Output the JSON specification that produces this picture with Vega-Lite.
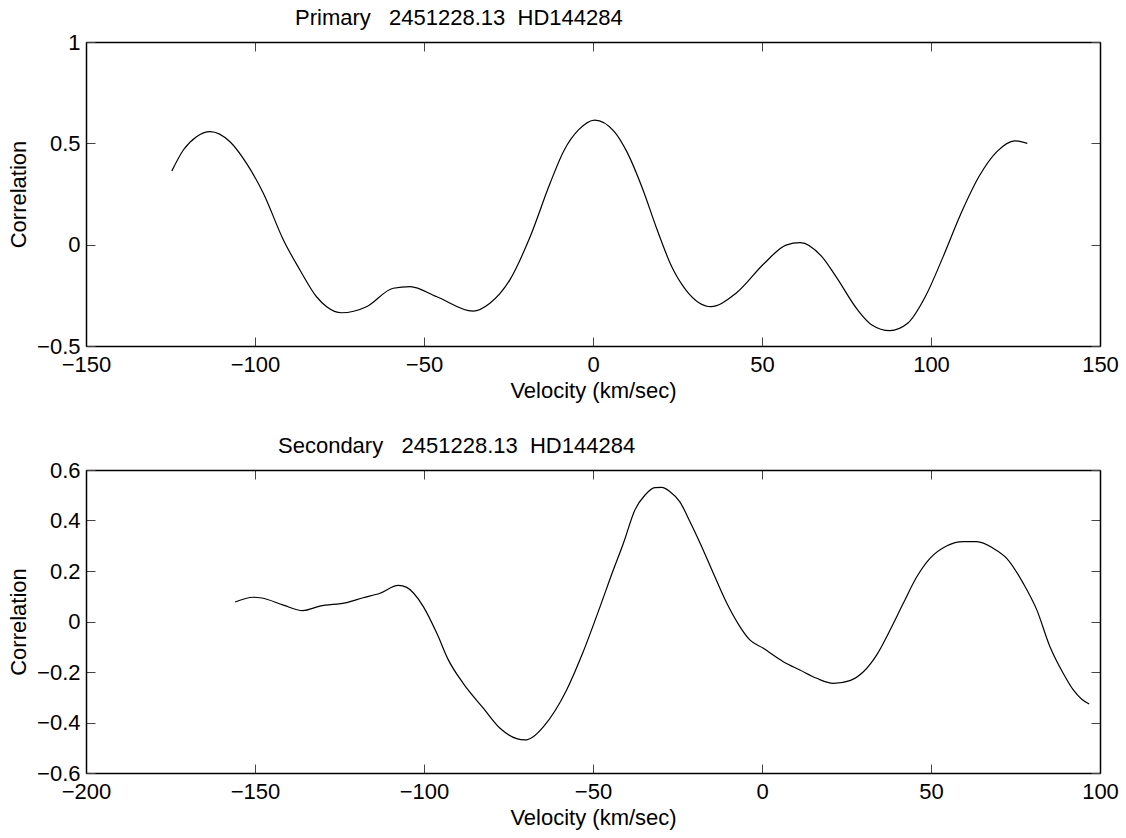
{
  "$schema": "https://vega.github.io/schema/vega-lite/v6.json",
  "background": "white",
  "padding": {"left": 7, "top": 7, "right": 10, "bottom": 2},
  "spacing": 34,
  "datasets": {
    "primary": [
      {"v": -124.6, "c": 0.364}, {"v": -121.2, "c": 0.467}, {"v": -117.3, "c": 0.533}, {"v": -113.3, "c": 0.558},
      {"v": -107.4, "c": 0.508}, {"v": -102.5, "c": 0.401}, {"v": -97.5, "c": 0.253}, {"v": -91.6, "c": 0.023},
      {"v": -86.7, "c": -0.125}, {"v": -81.8, "c": -0.257}, {"v": -78.8, "c": -0.306}, {"v": -74.4, "c": -0.336},
      {"v": -67.0, "c": -0.306}, {"v": -59.1, "c": -0.215}, {"v": -54.1, "c": -0.207}, {"v": -46.2, "c": -0.257},
      {"v": -35.5, "c": -0.328}, {"v": -30.5, "c": -0.289}, {"v": -24.6, "c": -0.174}, {"v": -18.6, "c": 0.039},
      {"v": -12.7, "c": 0.303}, {"v": -8.5, "c": 0.467}, {"v": -4.3, "c": 0.566}, {"v": 0.5, "c": 0.615},
      {"v": 6.3, "c": 0.558}, {"v": 10.0, "c": 0.459}, {"v": 14.8, "c": 0.27}, {"v": 19.0, "c": 0.072},
      {"v": 23.3, "c": -0.109}, {"v": 27.5, "c": -0.224}, {"v": 34.9, "c": -0.306}, {"v": 42.3, "c": -0.24},
      {"v": 50.7, "c": -0.092}, {"v": 57.1, "c": -0.002}, {"v": 61.3, "c": 0.01}, {"v": 67.7, "c": -0.059},
      {"v": 71.9, "c": -0.158}, {"v": 78.3, "c": -0.322}, {"v": 82.5, "c": -0.396}, {"v": 87.8, "c": -0.424},
      {"v": 93.1, "c": -0.388}, {"v": 98.3, "c": -0.257}, {"v": 103.6, "c": -0.059}, {"v": 108.9, "c": 0.155},
      {"v": 114.2, "c": 0.336}, {"v": 119.5, "c": 0.459}, {"v": 124.8, "c": 0.512}, {"v": 128.5, "c": 0.5}
    ],
    "secondary": [
      {"v": -155.9, "c": 0.077}, {"v": -150.5, "c": 0.096}, {"v": -148.0, "c": 0.093}, {"v": -141.6, "c": 0.065},
      {"v": -135.9, "c": 0.043}, {"v": -130.8, "c": 0.061}, {"v": -122.9, "c": 0.075}, {"v": -118.0, "c": 0.094},
      {"v": -113.0, "c": 0.112}, {"v": -107.6, "c": 0.143}, {"v": -105.1, "c": 0.135}, {"v": -100.2, "c": 0.059},
      {"v": -96.2, "c": -0.047}, {"v": -92.8, "c": -0.152}, {"v": -88.4, "c": -0.245}, {"v": -82.4, "c": -0.344},
      {"v": -77.5, "c": -0.423}, {"v": -72.6, "c": -0.464}, {"v": -70.1, "c": -0.469}, {"v": -67.7, "c": -0.456},
      {"v": -64.7, "c": -0.417}, {"v": -57.8, "c": -0.271}, {"v": -52.9, "c": -0.12}, {"v": -47.9, "c": 0.059},
      {"v": -44.0, "c": 0.204}, {"v": -41.0, "c": 0.31}, {"v": -37.6, "c": 0.442}, {"v": -34.6, "c": 0.501},
      {"v": -31.7, "c": 0.53}, {"v": -29.7, "c": 0.531}, {"v": -27.2, "c": 0.514}, {"v": -24.3, "c": 0.474},
      {"v": -21.3, "c": 0.395}, {"v": -18.3, "c": 0.31}, {"v": -14.4, "c": 0.191}, {"v": -10.4, "c": 0.072},
      {"v": -6.5, "c": -0.021}, {"v": -3.6, "c": -0.073}, {"v": 0.4, "c": -0.106}, {"v": 6.3, "c": -0.159},
      {"v": 11.2, "c": -0.192}, {"v": 16.2, "c": -0.225}, {"v": 21.1, "c": -0.245}, {"v": 26.0, "c": -0.234},
      {"v": 30.0, "c": -0.199}, {"v": 33.9, "c": -0.133}, {"v": 37.9, "c": -0.034}, {"v": 41.8, "c": 0.072},
      {"v": 45.8, "c": 0.177}, {"v": 49.7, "c": 0.25}, {"v": 54.6, "c": 0.299}, {"v": 59.6, "c": 0.316},
      {"v": 63.5, "c": 0.316}, {"v": 68.4, "c": 0.29}, {"v": 72.4, "c": 0.25}, {"v": 77.3, "c": 0.151},
      {"v": 81.3, "c": 0.046}, {"v": 85.2, "c": -0.1}, {"v": 89.1, "c": -0.205}, {"v": 92.1, "c": -0.271},
      {"v": 94.6, "c": -0.308}, {"v": 96.8, "c": -0.327}
    ]
  },
  "vconcat": [
    {
      "width": 1014,
      "height": 304,
      "data": {"name": "primary"},
      "title": {"text": "Primary\u00a0\u00a0\u00a02451228.13\u00a0\u00a0HD144284", "anchor": "start", "frame": "group", "dx": 209, "offset": 1},
      "layer": [
        {
          "mark": {"type": "line", "color": "black", "strokeWidth": 1.2, "interpolate": "monotone"},
          "encoding": {
            "x": {"field": "v", "type": "quantitative", "scale": {"domain": [-150, 150], "nice": false, "zero": false},
                  "axis": {"orient": "bottom", "values": [-150, -100, -50, 0, 50, 100, 150], "title": "Velocity (km/sec)"}},
            "y": {"field": "c", "type": "quantitative", "scale": {"domain": [-0.5, 1], "nice": false, "zero": false},
                  "axis": {"orient": "left", "values": [-0.5, 0, 0.5, 1], "format": "~g", "title": "Correlation"}}
          }
        },
        {
          "mark": {"type": "line", "opacity": 0},
          "encoding": {
            "x": {"field": "v", "type": "quantitative", "axis": {"orient": "top", "values": [-150, -100, -50, 0, 50, 100, 150], "labels": false, "title": null}},
            "y": {"field": "c", "type": "quantitative", "axis": {"orient": "right", "values": [-0.5, 0, 0.5, 1], "labels": false, "title": null}}
          }
        }
      ],
      "resolve": {"axis": {"x": "independent", "y": "independent"}}
    },
    {
      "width": 1014,
      "height": 303,
      "data": {"name": "secondary"},
      "title": {"text": "Secondary\u00a0\u00a0\u00a02451228.13\u00a0\u00a0HD144284", "anchor": "start", "frame": "group", "dx": 192, "offset": 1},
      "layer": [
        {
          "mark": {"type": "line", "color": "black", "strokeWidth": 1.2, "interpolate": "monotone"},
          "encoding": {
            "x": {"field": "v", "type": "quantitative", "scale": {"domain": [-200, 100], "nice": false, "zero": false},
                  "axis": {"orient": "bottom", "values": [-200, -150, -100, -50, 0, 50, 100], "title": "Velocity (km/sec)"}},
            "y": {"field": "c", "type": "quantitative", "scale": {"domain": [-0.6, 0.6], "nice": false, "zero": false},
                  "axis": {"orient": "left", "values": [-0.6, -0.4, -0.2, 0, 0.2, 0.4, 0.6], "format": "~g", "title": "Correlation"}}
          }
        },
        {
          "mark": {"type": "line", "opacity": 0},
          "encoding": {
            "x": {"field": "v", "type": "quantitative", "axis": {"orient": "top", "values": [-200, -150, -100, -50, 0, 50, 100], "labels": false, "title": null}},
            "y": {"field": "c", "type": "quantitative", "axis": {"orient": "right", "values": [-0.6, -0.4, -0.2, 0, 0.2, 0.4, 0.6], "labels": false, "title": null}}
          }
        }
      ],
      "resolve": {"axis": {"x": "independent", "y": "independent"}}
    }
  ],
  "config": {
    "view": {"stroke": null},
    "font": "Liberation Sans",
    "title": {"font": "Liberation Sans", "fontSize": 22, "fontWeight": "normal", "color": "black"},
    "axis": {
      "grid": false,
      "domainColor": "black",
      "domainWidth": 1.5,
      "tickColor": "#444",
      "tickWidth": 1,
      "tickSize": -9,
      "labelFont": "Liberation Sans",
      "labelFontSize": 22,
      "labelColor": "black",
      "labelPadding": 15,
      "labelOverlap": false,
      "labelFlush": false,
      "titleFont": "Liberation Sans",
      "titleFontSize": 22,
      "titleFontWeight": "normal",
      "titleColor": "black"
    },
    "axisX": {"labelPadding": 17, "titlePadding": 5},
    "axisY": {"titlePadding": 6}
  }
}
